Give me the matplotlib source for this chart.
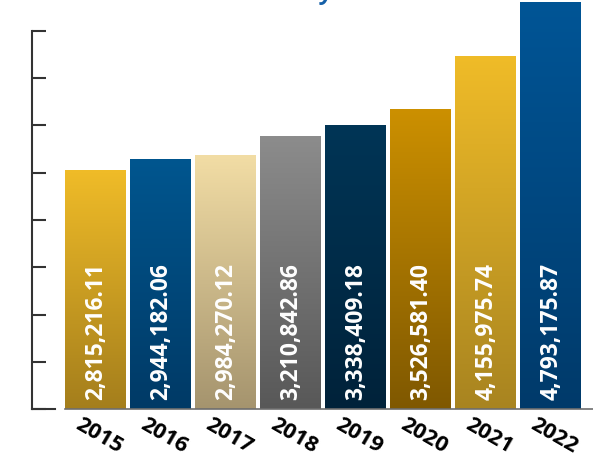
import numpy as np
import matplotlib
matplotlib.use("Agg")
import matplotlib.pyplot as plt
import matplotlib.transforms as mtransforms
from matplotlib.colors import to_rgb

plt.rcParams['font.family'] = ['Open Sans', 'DejaVu Sans']

years = ['2015', '2016', '2017', '2018', '2019', '2020', '2021', '2022']
values = [2815216.11, 2944182.06, 2984270.12, 3210842.86,
          3338409.18, 3526581.40, 4155975.74, 4793175.87]
labels = ['2,815,216.11', '2,944,182.06', '2,984,270.12', '3,210,842.86',
          '3,338,409.18', '3,526,581.40', '4,155,975.74', '4,793,175.87']

# gradient colours, top -> bottom
top_cols = ['#F0BC28', '#00568F', '#F2DDA5', '#8C8C8C',
            '#003556', '#CC9000', '#F0BC28', '#005596']
bot_cols = ['#A47E1C', '#003A66', '#A5946E', '#585858',
            '#00223A', '#7F5800', '#A88420', '#003A6A']

W, H = 593, 461
fig = plt.figure(figsize=(W / 100, H / 100), dpi=100)
ax = fig.add_axes([32 / W, (H - 409) / H, (W - 32) / W, 409 / H])

pitch = 65.0
x = np.arange(len(years))
bars = ax.bar(x, values, width=61 / pitch, color='none', zorder=2)

for b, c1, c2 in zip(bars, top_cols, bot_cols):
    t = np.linspace(0, 1, 256)[:, None]
    grad = (1 - t) * np.array(to_rgb(c1)) + t * np.array(to_rgb(c2))
    grad = grad[:, None, :]
    x0, w, h = b.get_x(), b.get_width(), b.get_height()
    im = ax.imshow(grad, extent=(x0, x0 + w, 0, h), origin='upper',
                   aspect='auto', zorder=2, interpolation='bilinear')
    im.set_clip_path(b)

ax.set_xlim((32 - 95.5) / pitch, (593 - 95.5) / pitch)
ax.set_ylim(0, 409 / 85 * 1e6)

# value labels inside bars
off = mtransforms.offset_copy(ax.transData, fig=fig, x=1, y=9, units='dots')
for xi, lab in zip(x, labels):
    ax.text(xi, 0, lab, rotation=90, ha='center', va='bottom', color='white',
            fontsize=16.5, fontweight='bold', transform=off, zorder=3)

# thin base line under bars
ax.plot([bars[0].get_x(), ax.get_xlim()[1]], [0, 0], color='#6E6E6E',
        lw=1.2, zorder=4, clip_on=False)

for s in ['top', 'right']:
    ax.spines[s].set_visible(False)
ax.spines['left'].set_color('#333333')
ax.spines['left'].set_linewidth(1.5)
ax.spines['left'].set_bounds(0, 378 / 85 * 1e6)
ax.spines['bottom'].set_color('#333333')
ax.spines['bottom'].set_linewidth(1.5)
ax.spines['bottom'].set_bounds(ax.get_xlim()[0], (55 - 95.5) / pitch)

ax.set_yticks(np.linspace(0, 378 / 85 * 1e6, 9))
ax.set_yticklabels([])
ax.tick_params(axis='y', direction='in', length=10, width=1.5, color='#333333')

ax.set_xticks(x)
ax.set_xticklabels(years, rotation=-30, ha='center', fontsize=16,
                   fontweight='bold', color='black')
ax.tick_params(axis='x', length=0, pad=4)
off_x = mtransforms.ScaledTranslation(3 / 100, 0, fig.dpi_scale_trans)
for tl in ax.get_xticklabels():
    tl.set_transform(tl.get_transform() + off_x)

# cut-off title remnant
fig.text(321 / W, 1.0 + 1 / H, 'y', color='#1560A8', fontsize=17,
         fontstyle='italic', fontweight='bold', va='baseline', ha='left')

fig.savefig('out.png', dpi=100)
